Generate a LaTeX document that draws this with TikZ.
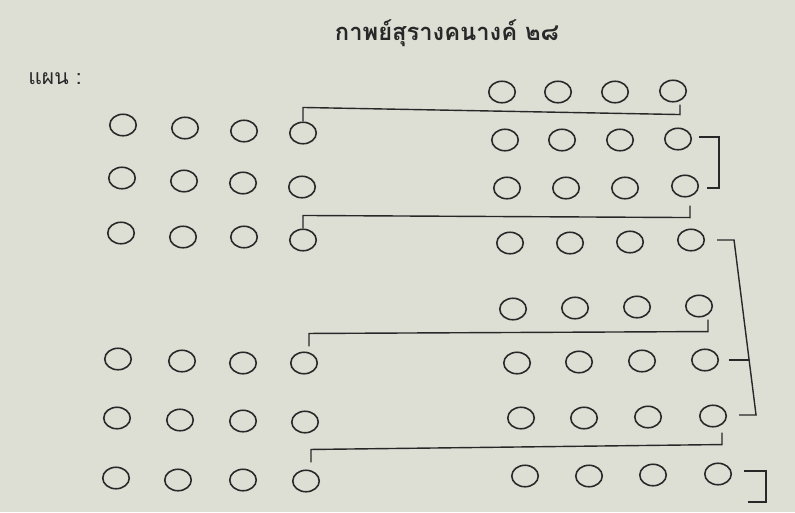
\documentclass[tikz,border=0pt]{standalone}
\usepackage{fontspec}
\newfontfamily\thaifont[Script=Thai]{Loma}
\usetikzlibrary{shapes.geometric,calc}
\definecolor{paper}{RGB}{221,223,213}
\definecolor{ink}{RGB}{40,40,40}
\begin{document}
\begin{tikzpicture}[x=0.02cm,y=-0.02cm,
  slot/.style={ellipse,draw=ink,line width=0.9pt,minimum width=0.53cm,minimum height=0.43cm,inner sep=0pt},
  conn/.style={draw=ink,line width=0.8pt},
  title/.style={font=\thaifont\bfseries\fontsize{13.5}{16}\selectfont,text=ink},
  lbl/.style={font=\thaifont\fontsize{12}{14}\selectfont,text=ink}]
\fill[paper] (0,0) rectangle (795,512);
\useasboundingbox (0,0) rectangle (795,512);
\node[title] (t) at (447,33) {กาพย์สุรางคนางค์ ๒๘};
\node[lbl] (plan) at (55,79) {แผน :};
% left block
\node[slot] (La1) at (123,125) {}; \node[slot] (La2) at (185,128) {}; \node[slot] (La3) at (244,131) {}; \node[slot] (La4) at (303,133) {};
\node[slot] (Lb1) at (122,178) {}; \node[slot] (Lb2) at (184,181) {}; \node[slot] (Lb3) at (243,183) {}; \node[slot] (Lb4) at (302,187) {};
\node[slot] (Lc1) at (121,233) {}; \node[slot] (Lc2) at (183,237) {}; \node[slot] (Lc3) at (244,237) {}; \node[slot] (Lc4) at (303,240) {};
\node[slot] (Ld1) at (118,359) {}; \node[slot] (Ld2) at (182,361) {}; \node[slot] (Ld3) at (243,363) {}; \node[slot] (Ld4) at (304,363) {};
\node[slot] (Le1) at (117,418) {}; \node[slot] (Le2) at (180,420) {}; \node[slot] (Le3) at (243,421) {}; \node[slot] (Le4) at (305,422) {};
\node[slot] (Lf1) at (116,478) {}; \node[slot] (Lf2) at (178,480) {}; \node[slot] (Lf3) at (243,480) {}; \node[slot] (Lf4) at (306,481) {};
% right block
\node[slot] (R11) at (502,92) {}; \node[slot] (R12) at (558,92) {}; \node[slot] (R13) at (615,92) {}; \node[slot] (R14) at (673,91) {};
\node[slot] (R21) at (505,140) {}; \node[slot] (R22) at (562,140) {}; \node[slot] (R23) at (620,140) {}; \node[slot] (R24) at (678,139) {};
\node[slot] (R31) at (507,188) {}; \node[slot] (R32) at (566,188) {}; \node[slot] (R33) at (625,188) {}; \node[slot] (R34) at (685,186) {};
\node[slot] (R41) at (510,243) {}; \node[slot] (R42) at (570,243) {}; \node[slot] (R43) at (630,242) {}; \node[slot] (R44) at (691,240) {};
\node[slot] (R51) at (513,309) {}; \node[slot] (R52) at (575,308) {}; \node[slot] (R53) at (637,307) {}; \node[slot] (R54) at (699,306) {};
\node[slot] (R61) at (517,363) {}; \node[slot] (R62) at (579,362) {}; \node[slot] (R63) at (642,361) {}; \node[slot] (R64) at (705,360) {};
\node[slot] (R71) at (521,418) {}; \node[slot] (R72) at (584,418) {}; \node[slot] (R73) at (648,417) {}; \node[slot] (R74) at (713,416) {};
\node[slot] (R81) at (525,476) {}; \node[slot] (R82) at (589,476) {}; \node[slot] (R83) at (653,475) {}; \node[slot] (R84) at (718,474) {};
% connectors
\draw[conn] (La4.north) -- ++(0,-14) -- ($(R14.south)+(7,12)$) -- ($(R14.south)+(7,2)$);
\draw[conn] ($(R24.east)+(7,-2)$) -- ($(R24.east)+(27,-2)$) -- ($(R34.east)+(20,2)$) -- ($(R34.east)+(8,2)$);
\draw[conn] ($(R34.south)+(5,8)$) -- ($(R34.south)+(5,20)$) -- ($(Lc4.north)+(0,-13)$) -- (Lc4.north);
\draw[conn] ($(R44.east)+(12,0)$) -- ($(R44.east)+(29,0)$) -- ($(R74.east)+(29,-1)$) -- ($(R74.east)+(12,-1)$);
\draw[conn] ($(R64.east)+(10,0)$) -- ($(R64.east)+(30,0)$);
\draw[conn] ($(R54.south)+(9,2)$) -- ($(R54.south)+(9,14)$) -- ($(Ld4.north)+(5,-18)$) -- ($(Ld4.north)+(5,-5)$);
\draw[conn] ($(R74.south)+(9,5)$) -- ($(R74.south)+(9,17)$) -- ($(Lf4.north)+(5,-20)$) -- ($(Lf4.north)+(5,-7)$);
\draw[conn] ($(R84.east)+(12,-3)$) -- ($(R84.east)+(34,-3)$) -- ($(R84.east)+(34,28)$) -- ($(R84.east)+(16,28)$);
\end{tikzpicture}
\end{document}
